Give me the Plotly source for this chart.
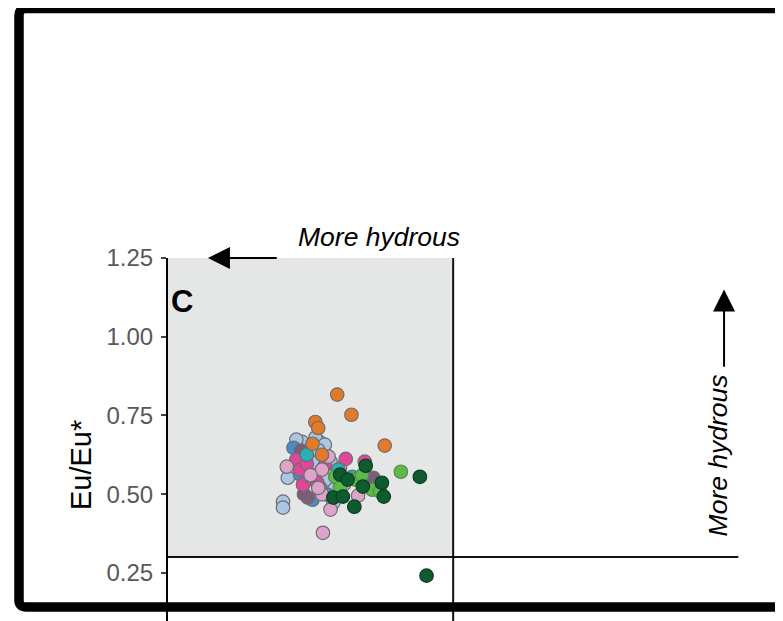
import plotly.graph_objects as go

# ---- data (x: arbitrary discriminant units, y: Eu/Eu*) ----
light_blue_x = [0.141, 0.160, 0.149, 0.146, 0.126, 0.121, 0.121, 0.167, 0.174, 0.156, 0.137, 0.181, 0.152,
                0.135, 0.155, 0.165, 0.171, 0.158, 0.175]
light_blue_y = [0.666, 0.664, 0.616, 0.578, 0.552, 0.476, 0.457, 0.546, 0.473, 0.600, 0.625, 0.584, 0.650,
                0.673, 0.679, 0.657, 0.603, 0.640, 0.515]
med_blue_x = [0.132, 0.152, 0.168, 0.139, 0.160, 0.145]
med_blue_y = [0.647, 0.482, 0.498, 0.562, 0.520, 0.610]
mauve_x = [0.140, 0.147, 0.216, 0.143]
mauve_y = [0.638, 0.489, 0.552, 0.500]
magenta_x = [0.135, 0.142, 0.152, 0.157, 0.187, 0.207, 0.139, 0.146, 0.165]
magenta_y = [0.609, 0.530, 0.546, 0.536, 0.612, 0.603, 0.578, 0.596, 0.590]
light_pink_x = [0.125, 0.169, 0.162, 0.162, 0.171, 0.163, 0.200, 0.158, 0.185, 0.150]
light_pink_y = [0.587, 0.619, 0.578, 0.499, 0.451, 0.377, 0.495, 0.520, 0.530, 0.560]
teal_x = [0.146, 0.194, 0.179]
teal_y = [0.625, 0.555, 0.578]
orange_x = [0.178, 0.193, 0.155, 0.158, 0.228, 0.152, 0.162]
orange_y = [0.816, 0.752, 0.729, 0.710, 0.654, 0.660, 0.625]
light_green_x = [0.176, 0.197, 0.181, 0.215, 0.245, 0.204, 0.223]
light_green_y = [0.555, 0.546, 0.521, 0.514, 0.571, 0.559, 0.508]
dark_green_x = [0.208, 0.181, 0.189, 0.205, 0.225, 0.227, 0.196, 0.265, 0.174, 0.184, 0.272]
dark_green_y = [0.590, 0.562, 0.546, 0.524, 0.536, 0.492, 0.460, 0.555, 0.489, 0.492, 0.241]

y_ticks = [0.25, 0.50, 0.75, 1.00, 1.25]
y_tick_labels = ["0.25", "0.50", "0.75", "1.00", "1.25"]
x_threshold = 0.30
y_threshold = 0.30

FONT = "Liberation Sans, Arial, sans-serif"

series = [
    (light_blue_x, light_blue_y, "#a9c6e3", "#6e6e6e"),
    (med_blue_x, med_blue_y, "#4a8cc8", "#6e6e6e"),
    (mauve_x, mauve_y, "#7d5b7a", "#6e6e6e"),
    (magenta_x, magenta_y, "#e0479b", "#6e6e6e"),
    (light_pink_x, light_pink_y, "#dea3cb", "#6e6e6e"),
    (teal_x, teal_y, "#26b2b8", "#6e6e6e"),
    (orange_x, orange_y, "#e37a2a", "#6e6e6e"),
    (light_green_x, light_green_y, "#5cb94a", "#5a8a50"),
    (dark_green_x, dark_green_y, "#0f5a2e", "#0b4022"),
]

fig = go.Figure()
for xs, ys, col, lc in series:
    fig.add_trace(go.Scatter(
        x=xs, y=ys, mode="markers",
        marker=dict(size=13.5, color=col, line=dict(color=lc, width=1.2)),
        showlegend=False, cliponaxis=False,
    ))

# page is offset by the 8px body margin: figure coords = page coords - 8
OFF = 8
W, H = 783 - OFF, 621 - OFF
L, T = 168 - OFF, 258 - OFF
pw, ph = W - L, H - T
Y_SCALE = 314.8  # px per Eu/Eu* unit


def px(xp):
    """page pixel x -> paper"""
    return (xp - OFF - L) / pw


def py(yp):
    """page pixel y -> paper"""
    return (H - (yp - OFF)) / ph


shapes = []
shapes.append(dict(type="rect", xref="x", yref="y", x0=0, x1=x_threshold, y0=y_threshold, y1=1.25,
                   fillcolor="#e5e6e6", line=dict(width=0), layer="below"))
shapes.append(dict(type="line", xref="x", yref="paper", x0=x_threshold, x1=x_threshold, y0=0, y1=1,
                   line=dict(color="#111111", width=2), layer="above"))
shapes.append(dict(type="line", xref="x", yref="y", x0=0, x1=0.6, y0=y_threshold, y1=y_threshold,
                   line=dict(color="#111111", width=2), layer="above"))
l, t, b, rx, ry = px(19), py(8.5), py(607), 7 / pw, 7 / ph
path = (f"M 1.2,{t} L {l + rx},{t} Q {l},{t} {l},{t - ry} "
        f"L {l},{b + ry} Q {l},{b} {l + rx},{b} L 1.2,{b}")
shapes.append(dict(type="path", xref="paper", yref="paper", path=path,
                   line=dict(color="black", width=9.5), layer="above"))

annotations = [
    dict(x=0.042, y=1.25, ax=0.116, ay=1.25, xref="x", yref="y", axref="x", ayref="y",
         text="", showarrow=True, arrowhead=2, arrowsize=2.2, arrowwidth=2, arrowcolor="black", standoff=0),
    dict(x=0.222, y=py(237), xref="x", yref="paper", text="<i>More hydrous</i>", showarrow=False,
         xanchor="center", yanchor="middle",
         font=dict(family=FONT, size=26.5, color="black")),
    dict(x=0.585, y=1.15, ax=0.585, ay=0.90, xref="x", yref="y", axref="x", ayref="y",
         text="", showarrow=True, arrowhead=2, arrowsize=2.2, arrowwidth=2, arrowcolor="black", standoff=0),
    dict(x=0.579, y=0.624, xref="x", yref="y", text="<i>More hydrous</i>", textangle=-90, showarrow=False,
         xanchor="center", yanchor="middle",
         font=dict(family=FONT, size=26.5, color="black")),
    dict(x=0.0145, y=1.112, xref="x", yref="y", text="<b>C</b>", showarrow=False,
         xanchor="center", yanchor="middle",
         font=dict(family=FONT, size=31, color="black")),
    dict(x=px(81), y=py(465), xref="paper", yref="paper", text="Eu/Eu*", textangle=-90, showarrow=False,
         xanchor="center", yanchor="middle",
         font=dict(family=FONT, size=29, color="black")),
]

fig.update_layout(
    width=W, height=H,
    margin=dict(l=L, r=0, t=T, b=0, pad=0),
    paper_bgcolor="white", plot_bgcolor="white",
    shapes=shapes, annotations=annotations,
    xaxis=dict(range=[0, 0.647], showgrid=False, zeroline=False, showticklabels=False,
               ticks="", showline=False, fixedrange=True),
    yaxis=dict(range=[1.25 - ph / Y_SCALE, 1.25], showgrid=False, zeroline=False,
               showline=True, linecolor="black", linewidth=2,
               tickvals=y_ticks, ticktext=y_tick_labels, ticks="outside", ticklen=5,
               tickcolor="#444444", tickwidth=1.5, ticklabelstandoff=3,
               tickfont=dict(family=FONT, size=24, color="#58585a")),
    font=dict(family=FONT),
)

fig.write_html("out.html")
